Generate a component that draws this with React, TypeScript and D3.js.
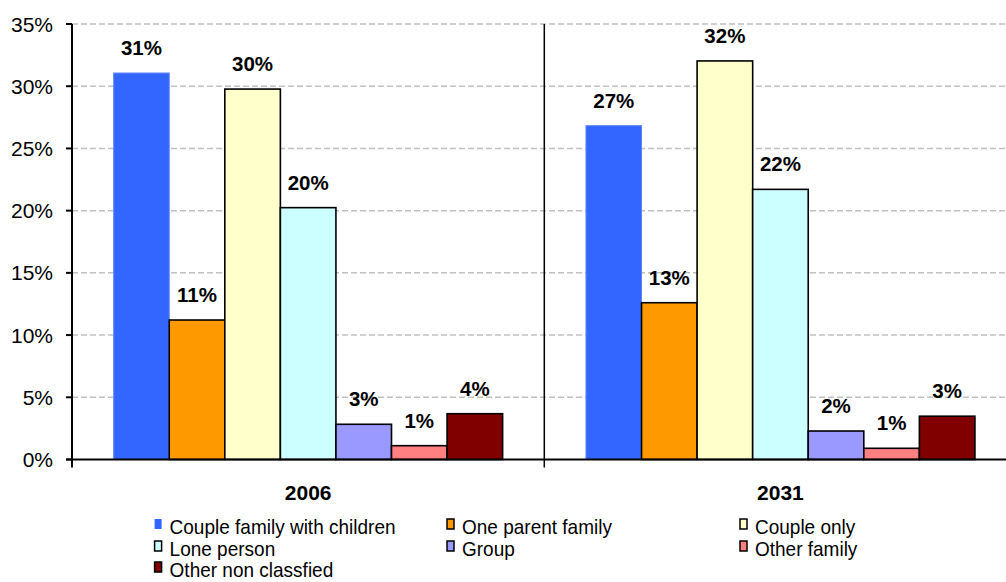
import React from "react";
import * as d3 from "d3";

const years = ["2006", "2031"];
const seriesNames = [
  "Couple family with children",
  "One parent family",
  "Couple only",
  "Lone person",
  "Group",
  "Other family",
  "Other non classfied",
];
const seriesColors = ["#3366FF", "#FF9900", "#FFFFCC", "#CCFFFF", "#9999FF", "#FF8080", "#800000"];
const values2006 = [31.06, 11.21, 29.77, 20.24, 2.83, 1.11, 3.68];
const values2031 = [26.83, 12.6, 32.03, 21.71, 2.29, 0.9, 3.48];
const yTicks = [0, 5, 10, 15, 20, 25, 30, 35];

const width = 1006;
const height = 582;
const marginLeft = 72;
const plotRight = 1016.6;
const plotTop = 24;
const plotBottom = 459.5;

export default function App() {
  const valuesByYear = [values2006, values2031];

  const x0 = d3.scaleBand<string>().domain(years).range([marginLeft, plotRight]).padding(0);
  const x1 = d3
    .scaleBand<string>()
    .domain(seriesNames)
    .range([0, x0.bandwidth()])
    .paddingInner(0)
    .paddingOuter(0.75);
  const y = d3.scaleLinear().domain([0, 35]).range([plotBottom, plotTop]);
  const fmt = (v: number) => `${Math.round(v)}%`;

  const legendCols = [154.6, 447, 740];
  const legendRows = [534, 556, 577];

  return (
    <svg
      width={width}
      height={height}
      style={{ position: "absolute", left: 0, top: 0, background: "#fff" }}
      fontFamily="Liberation Sans, Arial, sans-serif"
    >
      {/* gridlines */}
      {yTicks.filter((t) => t > 0).map((t) => (
        <line
          key={t}
          x1={marginLeft}
          x2={width}
          y1={y(t)}
          y2={y(t)}
          stroke="#c0c0c0"
          strokeWidth={1.5}
          strokeDasharray="6,3"
        />
      ))}

      {/* bars */}
      {years.map((yr, gi) => (
        <g key={yr} transform={`translate(${x0(yr)},0)`}>
          {seriesNames.map((s, i) => {
            const v = valuesByYear[gi][i];
            const bx = x1(s)!;
            const isBlue = i === 0;
            return (
              <g key={s}>
                <rect
                  x={bx}
                  y={y(v)}
                  width={x1.bandwidth()}
                  height={y(0) - y(v)}
                  fill={seriesColors[i]}
                  stroke={isBlue ? "#5c85ff" : "#000"}
                  strokeWidth={isBlue ? 1 : 1.6}
                />
                <text
                  x={bx + x1.bandwidth() / 2}
                  y={y(v) - 18}
                  textAnchor="middle"
                  fontWeight="bold"
                  fontSize={20.5}
                  fill="#000"
                >
                  {fmt(v)}
                </text>
              </g>
            );
          })}
        </g>
      ))}

      {/* y axis */}
      <line x1={marginLeft} x2={marginLeft} y1={plotTop} y2={plotBottom + 8} stroke="#000" strokeWidth={2} />
      {yTicks.map((t) => (
        <g key={t}>
          <line x1={marginLeft - 6} x2={marginLeft} y1={y(t)} y2={y(t)} stroke="#000" strokeWidth={2} />
          <text x={53} y={y(t)} dy="0.36em" textAnchor="end" fontSize={21} fill="#000">
            {t}%
          </text>
        </g>
      ))}

      {/* x axis */}
      <line x1={marginLeft - 6} x2={width} y1={plotBottom} y2={plotBottom} stroke="#000" strokeWidth={1.8} />
      {years.slice(1).map((yr) => (
        <line
          key={yr}
          x1={x0(yr)}
          x2={x0(yr)}
          y1={plotTop}
          y2={plotBottom + 8}
          stroke="#000"
          strokeWidth={1.5}
        />
      ))}
      {years.map((yr) => (
        <text
          key={yr}
          x={x0(yr)! + x0.bandwidth() / 2}
          y={500}
          textAnchor="middle"
          fontWeight="bold"
          fontSize={21}
          fill="#000"
        >
          {yr}
        </text>
      ))}

      {/* legend */}
      {seriesNames.map((s, i) => {
        const lx = legendCols[i % 3];
        const ly = legendRows[Math.floor(i / 3)];
        const isBlue = i === 0;
        return (
          <g key={s}>
            <rect
              x={lx}
              y={ly - 15}
              width={7}
              height={10}
              fill={seriesColors[i]}
              stroke={isBlue ? "none" : "#000"}
              strokeWidth={1.5}
            />
            <text
              x={lx + 15}
              y={ly}
              fontSize={20}
              fill="#000"
              transform={`translate(${lx + 15},0) scale(0.95,1) translate(${-(lx + 15)},0)`}
            >
              {s}
            </text>
          </g>
        );
      })}
    </svg>
  );
}
